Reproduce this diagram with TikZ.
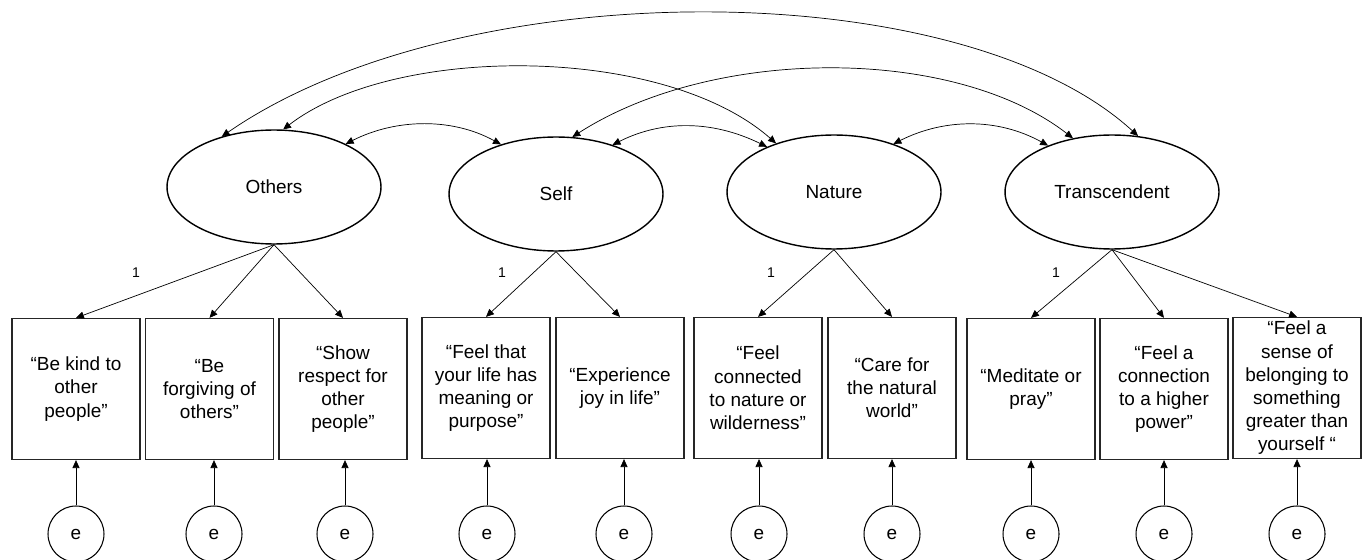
\documentclass[tikz,border=0pt]{standalone}
\usepackage{fontspec}
\setmainfont{Liberation Sans}
\usetikzlibrary{arrows.meta,shapes.geometric}
\begin{document}
\begin{tikzpicture}[x=0.02cm,y=-0.02cm,
  latent/.style={ellipse,draw,line width=0.8pt,minimum width=4.28cm,minimum height=2.28cm,inner sep=0pt,font=\fontsize{10.8}{13}\selectfont},
  obs/.style={rectangle,draw=black!85,line width=0.7pt,minimum width=2.56cm,minimum height=2.82cm,inner sep=0pt,align=center,font=\fontsize{10.8}{13.2}\selectfont},
  err/.style={circle,draw,line width=0.6pt,minimum size=1.12cm,inner sep=0pt,font=\fontsize{10.8}{13}\selectfont},
  arr/.style={-{Triangle[length=4.5pt,width=4pt]},line width=0.4pt},
  cov/.style={{Triangle[length=4.5pt,width=4pt]}-{Triangle[length=4.5pt,width=4pt]},line width=0.4pt},
  lab1/.style={font=\fontsize{8}{9}\selectfont,inner sep=0pt}]
\useasboundingbox (0,0) rectangle (1365,560);

% latent factors
\node[latent] (o) at (274,187) {Others};
\node[latent] (s) at (556,194) {Self};
\node[latent] (n) at (834,192) {Nature};
\node[latent] (t) at (1112,192) {Transcendent};

% observed items
\node[obs] (b1) at (76,389) {“Be kind to\\other\\people”};
\node[obs] (b2) at (209.5,389) {“Be\\forgiving of\\others”};
\node[obs] (b3) at (343,389) {“Show\\respect for\\other\\people”};
\node[obs] (b4) at (486,388) {“Feel that\\your life has\\meaning or\\purpose”};
\node[obs] (b5) at (620,388) {“Experience\\joy in life”};
\node[obs] (b6) at (758,388) {“Feel\\connected\\to nature or\\wilderness”};
\node[obs] (b7) at (892,388) {“Care for\\the natural\\world”};
\node[obs] (b8) at (1031,389) {“Meditate or\\pray”};
\node[obs] (b9) at (1164,389) {“Feel a\\connection\\to a higher\\power”};
\node[obs] (b10) at (1297,388) {“Feel a\\sense of\\belonging to\\something\\greater than\\yourself “};

% error terms
\foreach \i/\x in {1/76,2/214,3/345,4/487,5/624,6/759,7/892,8/1031,9/1164,10/1297}{
  \node[err] (e\i) at (\x,534) {e};
  \draw[arr] (e\i.north) -- (e\i.north |- b\i.south);
}

% loadings
\draw[arr] (o.south) -- (b1.north);
\draw[arr] (o.south) -- (b2.north);
\draw[arr] (o.south) -- (b3.north);
\draw[arr] (s.south) -- (b4.north);
\draw[arr] (s.south) -- (b5.north);
\draw[arr] (n.south) -- (b6.north);
\draw[arr] (n.south) -- (b7.north);
\draw[arr] (t.south) -- (b8.north);
\draw[arr] (t.south) -- (b9.north);
\draw[arr] (t.south) -- (b10.north);

\node[lab1] (l1) at (136,273) {1};
\node[lab1] (l2) at (502,273) {1};
\node[lab1] (l3) at (771,273) {1};
\node[lab1] (l4) at (1056,273) {1};

% covariances
\draw[cov] (o.31) .. controls (397,118) and (453,118) .. (s.138);
\draw[cov] (s.41) .. controls (662,120) and (712,120) .. (n.146);
\draw[cov] (n.39) .. controls (945,118) and (998,118) .. (t.144);
\draw[cov] (o.81) .. controls (394,44) and (663,44) .. (n.140);
\draw[cov] (s.74) .. controls (714,46) and (954,46) .. (t.126);
\draw[cov] (o.136) .. controls (460,-28) and (959,-28) .. (t.65);
\end{tikzpicture}
\end{document}
